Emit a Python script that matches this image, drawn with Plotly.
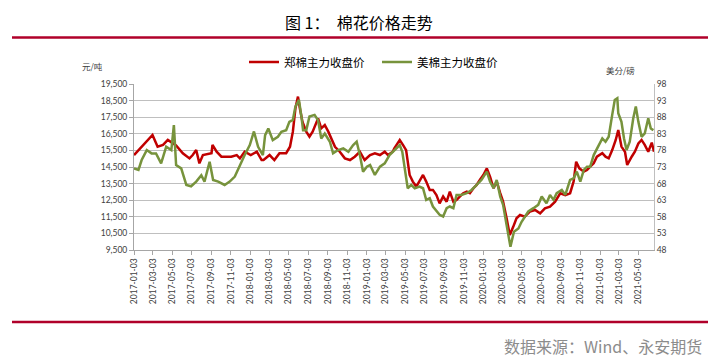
import plotly.graph_objects as go

# 郑棉主力收盘价 (元/吨)
zz_dates = ["2017-01-03","2017-02-01","2017-03-02","2017-03-18","2017-04-04","2017-04-19","2017-05-02","2017-05-15",
 "2017-06-05","2017-06-26","2017-07-06","2017-07-17","2017-07-27","2017-08-07","2017-09-03","2017-09-06","2017-09-19",
 "2017-10-04","2017-11-04","2017-11-21","2017-12-01","2017-12-16","2018-01-04","2018-01-23","2018-02-07","2018-02-13",
 "2018-03-04","2018-03-19","2018-04-04","2018-04-25","2018-05-07","2018-05-16","2018-05-24","2018-06-01","2018-06-08",
 "2018-06-15","2018-06-27","2018-07-07","2018-07-17","2018-08-03","2018-08-13","2018-08-24","2018-09-04","2018-09-14",
 "2018-09-25","2018-10-10","2018-10-26","2018-11-11","2018-11-26","2018-12-12","2018-12-27","2019-01-13","2019-01-28",
 "2019-02-13","2019-02-28","2019-03-10","2019-03-25","2019-03-30","2019-04-16","2019-04-26","2019-05-06","2019-05-17",
 "2019-05-27","2019-06-07","2019-06-17","2019-06-28","2019-07-08","2019-07-19","2019-07-29","2019-08-09","2019-08-19",
 "2019-08-30","2019-09-10","2019-09-20","2019-10-01","2019-10-11","2019-10-21","2019-11-01","2019-11-12","2019-11-22",
 "2019-12-03","2019-12-13","2019-12-23","2020-01-03","2020-01-14","2020-01-24","2020-02-04","2020-02-14","2020-02-25",
 "2020-03-05","2020-03-16","2020-03-26","2020-04-06","2020-04-16","2020-04-27","2020-05-12","2020-05-28","2020-06-13",
 "2020-06-29","2020-07-14","2020-07-30","2020-08-15","2020-08-31","2020-09-16","2020-10-01","2020-10-12","2020-10-20",
 "2020-10-30","2020-11-13","2020-11-23","2020-12-03","2020-12-14","2020-12-24","2021-01-10","2021-01-20","2021-01-30",
 "2021-02-10","2021-02-21","2021-03-01","2021-03-11","2021-03-22","2021-03-29","2021-04-12","2021-04-22","2021-05-03",
 "2021-05-13","2021-05-23","2021-06-03","2021-06-14","2021-06-21"]
zz_values = [15220,15830,16430,15720,15830,16130,15950,15800,
 15330,15020,15220,15520,14720,15220,15330,15830,15420,
 15120,15120,15220,15020,15420,15220,15420,14920,14920,
 15220,14920,15330,15330,15720,16630,18040,18740,17920,
 17230,16630,16330,16630,17430,16830,17030,16630,16230,
 15720,15420,15020,14920,15120,15420,14920,15220,15330,
 15220,15420,15220,15420,15630,16130,15830,15520,14020,
 13620,13320,13620,14020,13620,13120,13120,12810,12310,
 12720,12410,13020,12410,12510,12720,12920,13020,12920,
 13220,13420,13720,14020,14420,13920,13220,13620,12920,
 12410,11410,10400,10910,11410,11610,11510,11810,11910,
 11710,12010,12110,12410,12920,12810,12920,13620,14820,
 14420,14220,14320,14520,14720,15120,15330,15120,15020,
 15520,16130,16730,15730,15420,14620,15120,15420,15920,
 16130,15830,15420,15970,15420]

# 美棉主力收盘价 (美分/磅)
ice_dates = ["2017-01-03","2017-01-17","2017-01-27","2017-02-12","2017-02-27","2017-03-13","2017-03-29","2017-04-14",
 "2017-04-30","2017-05-08","2017-05-15","2017-05-31","2017-06-16","2017-07-01","2017-07-17","2017-08-02","2017-08-12",
 "2017-08-28","2017-09-08","2017-09-24","2017-10-14","2017-10-30","2017-11-15","2017-12-01","2017-12-16","2018-01-01",
 "2018-01-14","2018-01-27","2018-02-11","2018-02-18","2018-02-28","2018-03-14","2018-03-30","2018-04-10","2018-04-25",
 "2018-05-05","2018-05-16","2018-05-24","2018-06-04","2018-06-12","2018-06-17","2018-06-27","2018-07-07","2018-07-23",
 "2018-08-03","2018-08-13","2018-08-24","2018-09-09","2018-09-19","2018-10-05","2018-10-21","2018-11-06","2018-11-21",
 "2018-12-02","2018-12-12","2018-12-22","2019-01-03","2019-01-13","2019-01-28","2019-02-13","2019-02-28","2019-03-15",
 "2019-03-30","2019-04-16","2019-04-24","2019-05-01","2019-05-11","2019-05-22","2019-06-02","2019-06-17","2019-06-28",
 "2019-07-08","2019-07-19","2019-07-29","2019-08-09","2019-08-19","2019-08-30","2019-09-10","2019-09-20","2019-10-01",
 "2019-10-11","2019-10-26","2019-11-12","2019-11-27","2019-12-13","2019-12-28","2020-01-14","2020-01-24","2020-02-04",
 "2020-02-14","2020-02-25","2020-03-05","2020-03-16","2020-03-28","2020-04-08","2020-04-22","2020-05-02","2020-05-12",
 "2020-05-23","2020-06-08","2020-06-23","2020-07-04","2020-07-19","2020-07-30","2020-08-10","2020-08-20","2020-09-05",
 "2020-09-16","2020-10-01","2020-10-12","2020-10-22","2020-11-02","2020-11-13","2020-11-23","2020-12-03","2020-12-14",
 "2020-12-29","2021-01-10","2021-01-20","2021-01-30","2021-02-10","2021-02-18","2021-02-26","2021-03-01","2021-03-11",
 "2021-03-19","2021-03-27","2021-04-06","2021-04-17","2021-04-25","2021-05-03","2021-05-13","2021-05-23","2021-06-03",
 "2021-06-11","2021-06-19"]
ice_values = [72.6,72.1,75.1,78.1,77.1,77.1,74.1,79.1,
 78.1,85.6,73.6,72.6,67.6,67.2,68.6,70.5,68.6,
 74.6,69.1,68.6,67.6,68.6,70.1,73.6,76.6,79.6,
 83.7,79.1,76.6,82.6,84.6,81.1,82.1,83.6,84.1,
 86.6,87.2,91.2,93.2,88.1,84.1,84.1,88.2,88.7,
 87.1,81.6,83.1,80.6,77.1,78.1,78.6,77.6,79.6,
 80.6,76.6,71.6,73.1,73.6,70.6,73.1,74.1,76.6,
 78.1,79.6,77.6,72.6,66.6,67.6,66.6,67.1,66.6,
 63.1,63.6,61.1,59.6,58.6,58.1,60.6,61.1,60.6,
 64.6,64.6,65.1,66.1,67.6,69.1,71.6,68.6,66.6,
 69.1,64.1,61.6,55.5,49.0,53.5,54.5,56.5,58.1,
 59.6,60.6,61.6,64.1,62.1,64.6,63.1,65.1,66.1,
 64.6,69.1,69.6,71.6,68.6,72.1,73.1,73.1,76.6,
 79.6,81.6,80.6,82.1,88.7,93.2,93.7,89.2,86.6,
 81.6,78.1,80.6,87.7,91.2,86.6,82.1,83.1,87.7,
 84.6,84.1]

x_ticks = ["2017-01-03","2017-03-03","2017-05-03","2017-07-03","2017-09-03","2017-11-03",
 "2018-01-03","2018-03-03","2018-05-03","2018-07-03","2018-09-03","2018-11-03",
 "2019-01-03","2019-03-03","2019-05-03","2019-07-03","2019-09-03","2019-11-03",
 "2020-01-03","2020-03-03","2020-05-03","2020-07-03","2020-09-03","2020-11-03",
 "2021-01-03","2021-03-03","2021-05-03"]

series_names = ["郑棉主力收盘价", "美棉主力收盘价"]
title_text = "图 1：\u00a0\u00a0棉花价格走势"
source_text = "数据来源：Wind、永安期货"

RED = "#C00000"
GREEN = "#77933C"
CJK = "Noto Sans CJK SC"
NUM = "Lato, Liberation Sans, sans-serif"

fig = go.Figure()
fig.add_trace(go.Scatter(x=zz_dates, y=zz_values, name=series_names[0], mode="lines",
                         line=dict(color=RED, width=2.5), yaxis="y"))
fig.add_trace(go.Scatter(x=ice_dates, y=ice_values, name=series_names[1], mode="lines",
                         line=dict(color=GREEN, width=2.5), yaxis="y2"))

# page has an 8px body margin; figure is placed at (8, 8)
OFF = 8
W, H = 723 - OFF, 363 - OFF
# plot area in page pixels: x 134..654, y 84..250
L, R, T, B = 134, 654, 84, 250
def px(x): return (x - L) / (R - L)
def py(y): return (B - y) / (B - T)

fig.update_layout(
    width=W, height=H,
    margin=dict(l=L - OFF, r=(OFF + W) - R, t=T - OFF, b=(OFF + H) - B, pad=0),
    paper_bgcolor="white", plot_bgcolor="white",
    showlegend=True,
    legend=dict(orientation="h", x=px(377), xanchor="center", y=py(62), yanchor="middle",
                font=dict(family=CJK, size=11.5, color="#000"),
                entrywidth=88, entrywidthmode="pixels",
                traceorder="normal", bgcolor="rgba(0,0,0,0)"),
    xaxis=dict(type="date", range=["2017-01-03", "2021-06-21"],
               tickvals=x_ticks, ticktext=x_ticks, tickangle=-90,
               tickfont=dict(family=NUM, size=8.5, color="#404040"),
               showgrid=False, showline=True, linecolor="#A6A6A6", linewidth=1,
               ticks="outside", ticklen=4, tickcolor="#A6A6A6", zeroline=False),
    yaxis=dict(range=[9500, 19500], dtick=1000, tick0=9500, tickformat=",d",
               tickfont=dict(family=NUM, size=8.5, color="#404040"),
               showgrid=True, gridcolor="#BFBFBF", gridwidth=1,
               showline=True, linecolor="#A6A6A6", linewidth=1,
               ticks="outside", ticklen=4, tickcolor="#A6A6A6", zeroline=False),
    yaxis2=dict(range=[48, 98], dtick=5, tick0=48, overlaying="y", side="right",
                tickfont=dict(family=NUM, size=8.5, color="#404040"),
                showgrid=False, showline=True, linecolor="#BFBFBF", linewidth=1,
                ticks="", zeroline=False),
)

fig.add_annotation(text=title_text, x=px(359), xref="paper", xanchor="center",
                   y=py(8.5), yref="paper", yanchor="top", showarrow=False,
                   font=dict(family=CJK, size=16, color="#000"))
fig.add_annotation(text="元/吨", x=px(92), xref="paper", xanchor="center",
                   y=py(66), yref="paper", yanchor="middle", showarrow=False,
                   font=dict(family=CJK, size=8.5, color="#404040"))
fig.add_annotation(text="美分/磅", x=px(620), xref="paper", xanchor="center",
                   y=py(70), yref="paper", yanchor="middle", showarrow=False,
                   font=dict(family=CJK, size=8.5, color="#404040"))
fig.add_annotation(text=source_text, x=px(704), xref="paper", xanchor="right",
                   y=py(346), yref="paper", yanchor="middle", showarrow=False,
                   font=dict(family=CJK, size=16, color="#8C8C8C"))

for yy in (37.5, 322):
    fig.add_shape(type="line", xref="paper", yref="paper",
                  x0=px(12), x1=px(708), y0=py(yy), y1=py(yy),
                  line=dict(color="#B0002A", width=2.5))

fig.write_html("out.html")
